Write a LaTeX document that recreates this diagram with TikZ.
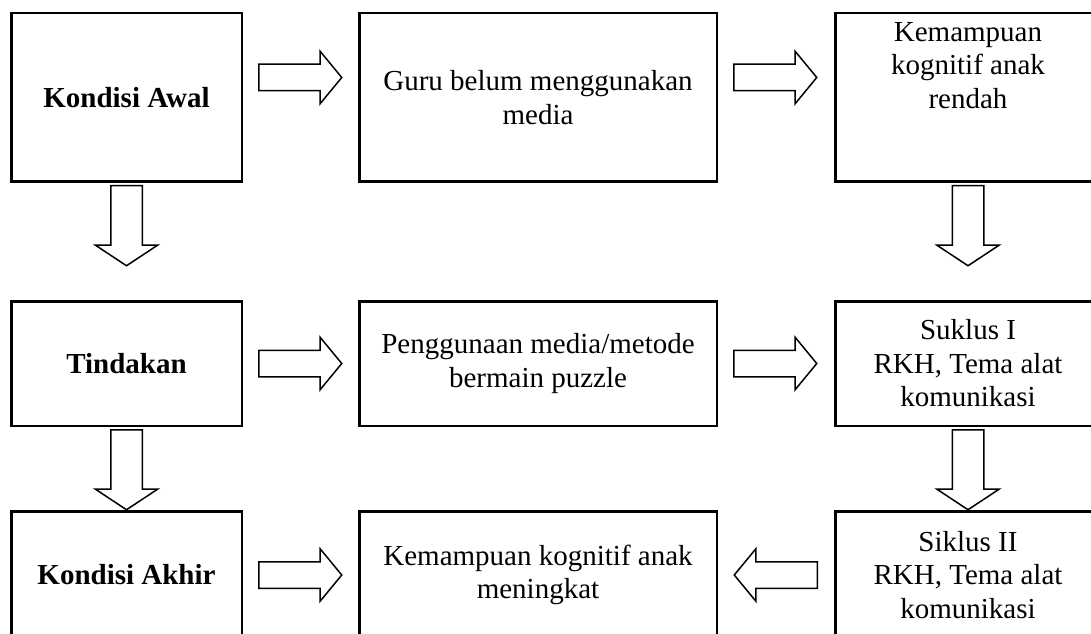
\documentclass[tikz,border=0pt]{standalone}
\usepackage{fontspec}
\setmainfont{Liberation Serif}
\usetikzlibrary{positioning, shapes.arrows}

\begin{document}
\begin{tikzpicture}[
    x=1pt, y=1pt,
    font=\fontsize{29}{33.5}\selectfont,
    box/.style={rectangle, draw, line width=2.5pt, align=center, inner sep=0pt},
    tallbox/.style={box, minimum height=168.5pt},
    midbox/.style={box, minimum height=124.5pt},
    lowbox/.style={box, minimum height=127.5pt},
    blockarrow/.style={single arrow, draw, line width=1.5pt, inner xsep=0pt, anchor=tail},
    rarrow/.style={blockarrow, inner ysep=12.5pt, minimum height=83pt, single arrow head extend=13pt, single arrow tip angle=101},
    larrow/.style={rarrow, rotate=180},
    darrow/.style={blockarrow, rotate=-90, inner ysep=15pt, minimum height=80pt, single arrow head extend=15.5pt, single arrow tip angle=113}
]
\useasboundingbox (0,0) rectangle (1091,633);
\clip (0,0) rectangle (1091,633);

% kondisi awal
\node[tallbox, minimum width=230.5pt] (awal) at (126.5,535.5) {\textbf{Kondisi Awal}};
\node[tallbox, minimum width=357.5pt, right=115pt of awal] (guru) {Guru belum menggunakan\\media};
\node[tallbox, minimum width=265.5pt, right=116pt of guru,
      label={[anchor=north, yshift=-10pt, align=center, inner sep=0pt]north:Kemampuan\\kognitif anak\\rendah}] (rendah) {};

% tindakan
\node[midbox, minimum width=230.5pt, below=117pt of awal] (tindakan) {\textbf{Tindakan}};
\node[midbox, minimum width=357.5pt, below=117pt of guru] (puzzle) {Penggunaan media/metode\\bermain puzzle};
\node[midbox, minimum width=265.5pt, below=117pt of rendah] (siklus1) {Suklus I\\RKH, Tema alat\\komunikasi};

% kondisi akhir
\node[lowbox, minimum width=230.5pt, below=83pt of tindakan] (akhir) {\textbf{Kondisi Akhir}};
\node[lowbox, minimum width=357.5pt, below=83pt of puzzle] (meningkat) {Kemampuan kognitif anak\\meningkat};
\node[lowbox, minimum width=265.5pt, below=83pt of siklus1] (siklus2) {Siklus II\\RKH, Tema alat\\komunikasi};

% panah
\node[rarrow] (p1) at ([xshift=15pt, yshift=20pt]awal.east) {};
\node[rarrow] (p2) at ([xshift=15pt, yshift=20pt]guru.east) {};
\node[darrow] (p3) at ([yshift=-2pt]awal.south) {};
\node[darrow] (p4) at ([yshift=-2pt]rendah.south) {};
\node[rarrow] (p5) at ([xshift=15pt]tindakan.east) {};
\node[rarrow] (p6) at ([xshift=15pt]puzzle.east) {};
\node[darrow] (p7) at ([yshift=-2pt]tindakan.south) {};
\node[darrow] (p8) at ([yshift=-2pt]siklus1.south) {};
\node[rarrow] (p9) at ([xshift=15pt]akhir.east) {};
\node[larrow] (p10) at ([xshift=-16pt]siklus2.west) {};
\end{tikzpicture}
\end{document}
